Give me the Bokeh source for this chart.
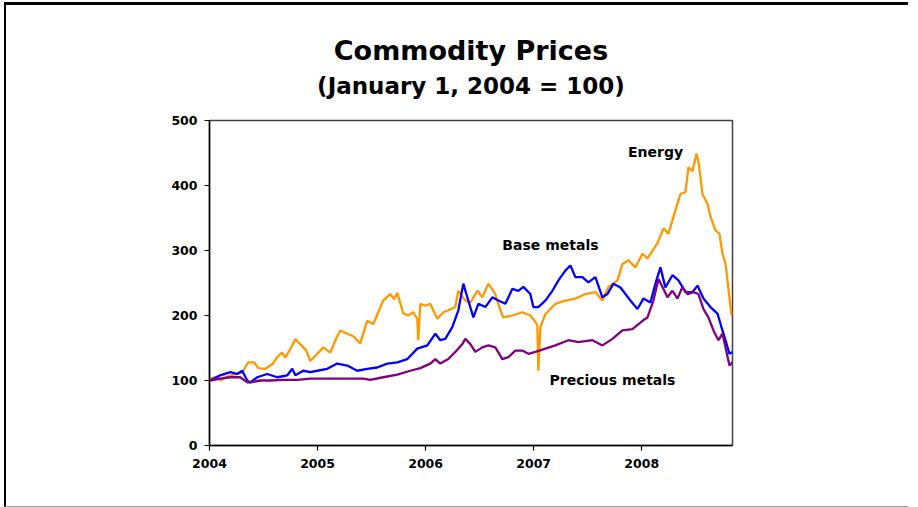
from bokeh.plotting import figure
from bokeh.models import Range1d, FixedTicker, Label, PrintfTickFormatter, Title
from bokeh.embed import file_html
from bokeh.resources import INLINE

# ---- data (decimal year, index value Jan 1 2004 = 100) ----
energy_t = [2004.006, 2004.071, 2004.099, 2004.164, 2004.238, 2004.303, 2004.358, 2004.414, 2004.451, 2004.516,
            2004.581, 2004.627, 2004.673, 2004.701, 2004.747, 2004.794, 2004.821, 2004.868, 2004.896, 2004.933,
            2004.979, 2005.025, 2005.053, 2005.118, 2005.173, 2005.210, 2005.275, 2005.331, 2005.395, 2005.460,
            2005.516, 2005.562, 2005.608, 2005.673, 2005.710, 2005.738, 2005.793, 2005.840, 2005.886, 2005.923,
            2005.932, 2005.951, 2005.997, 2006.043, 2006.108, 2006.164, 2006.210, 2006.275, 2006.303, 2006.367,
            2006.414, 2006.479, 2006.525, 2006.581, 2006.645, 2006.692, 2006.719, 2006.803, 2006.895, 2006.969,
            2007.016, 2007.034, 2007.043, 2007.062, 2007.108, 2007.201, 2007.293, 2007.386, 2007.479, 2007.571,
            2007.636, 2007.692, 2007.775, 2007.821, 2007.877, 2007.942, 2008.006, 2008.053, 2008.145, 2008.201,
            2008.247, 2008.312, 2008.358, 2008.405, 2008.432, 2008.469, 2008.506, 2008.525, 2008.562, 2008.608,
            2008.636, 2008.682, 2008.719, 2008.747, 2008.775, 2008.803, 2008.831]
energy_v = [103, 106, 100, 106, 110, 112, 128, 128, 119, 118,
            125, 136, 143, 135, 148, 164, 159, 151, 146, 130,
            138, 146, 151, 143, 165, 177, 172, 168, 157, 192,
            187, 205, 223, 233, 225, 235, 203, 200, 205, 195,
            162, 218, 215, 218, 195, 205, 208, 213, 238, 223,
            220, 238, 228, 249, 233, 208, 197, 200, 205, 200,
            190, 185, 115, 182, 202, 218, 223, 226, 233, 236,
            223, 244, 254, 279, 285, 274, 295, 288, 311, 334,
            326, 362, 387, 390, 428, 422, 449, 437, 387, 372,
            352, 331, 326, 295, 280, 240, 200]

base_t = [2004.006, 2004.099, 2004.192, 2004.256, 2004.303, 2004.349, 2004.377, 2004.442, 2004.534, 2004.627,
          2004.720, 2004.766, 2004.794, 2004.868, 2004.933, 2004.997, 2005.090, 2005.182, 2005.275, 2005.367,
          2005.460, 2005.553, 2005.645, 2005.738, 2005.831, 2005.923, 2006.016, 2006.090, 2006.136, 2006.182,
          2006.247, 2006.303, 2006.349, 2006.386, 2006.442, 2006.488, 2006.553, 2006.617, 2006.673, 2006.738,
          2006.803, 2006.858, 2006.905, 2006.969, 2006.997, 2007.043, 2007.108, 2007.173, 2007.229, 2007.293,
          2007.340, 2007.386, 2007.451, 2007.506, 2007.571, 2007.636, 2007.682, 2007.738, 2007.803, 2007.895,
          2007.960, 2008.016, 2008.080, 2008.127, 2008.173, 2008.219, 2008.284, 2008.340, 2008.405, 2008.469,
          2008.516, 2008.571, 2008.636, 2008.701, 2008.747, 2008.784, 2008.812, 2008.840]
base_v = [100, 108, 113, 110, 115, 100, 97, 105, 110, 105,
          108, 118, 108, 115, 113, 115, 118, 126, 123, 115,
          118, 120, 126, 128, 133, 149, 154, 172, 162, 164,
          182, 208, 249, 228, 197, 218, 213, 228, 223, 218,
          241, 238, 244, 233, 213, 213, 223, 238, 254, 269,
          277, 259, 259, 251, 259, 228, 233, 249, 243, 223,
          210, 226, 220, 249, 274, 243, 262, 254, 236, 236,
          246, 226, 213, 203, 177, 157, 141, 144]

prec_t = [2004.006, 2004.099, 2004.192, 2004.284, 2004.349, 2004.377, 2004.469, 2004.562, 2004.682, 2004.812,
          2004.933, 2005.053, 2005.182, 2005.303, 2005.423, 2005.488, 2005.608, 2005.738, 2005.858, 2005.951,
          2006.043, 2006.090, 2006.136, 2006.210, 2006.275, 2006.340, 2006.367, 2006.414, 2006.460, 2006.525,
          2006.581, 2006.645, 2006.710, 2006.766, 2006.830, 2006.895, 2006.951, 2007.016, 2007.108, 2007.201,
          2007.321, 2007.414, 2007.543, 2007.636, 2007.729, 2007.821, 2007.914, 2008.016, 2008.053, 2008.108,
          2008.155, 2008.192, 2008.238, 2008.284, 2008.331, 2008.377, 2008.423, 2008.479, 2008.525, 2008.571,
          2008.617, 2008.664, 2008.710, 2008.747, 2008.775, 2008.812, 2008.840]
prec_v = [100, 103, 105, 105, 97, 97, 100, 100, 101, 101,
          103, 103, 103, 103, 103, 101, 105, 109, 115, 119,
          126, 133, 126, 133, 144, 156, 164, 156, 144, 151,
          154, 151, 133, 136, 146, 146, 141, 144, 149, 154,
          162, 159, 162, 154, 164, 177, 179, 193, 197, 223,
          256, 244, 228, 238, 226, 244, 233, 236, 233, 210,
          197, 177, 162, 172, 151, 123, 128]

x_ticks = [2004, 2005, 2006, 2007, 2008]
y_ticks = [0, 100, 200, 300, 400, 500]

FONT = "DejaVu Sans"

p = figure(width=904, height=505, output_backend="svg", toolbar_location=None,
           x_range=Range1d(2004, 2008.84), y_range=Range1d(0, 500),
           min_border_left=203, min_border_right=178, min_border_top=115, min_border_bottom=65,
           margin=(2, 0, 0, 4),
           styles={"border-top": "3px solid black", "border-left": "2px solid black",
                   "border-bottom": "1px solid #a0a0a0"})

p.line(energy_t, energy_v, line_color="#FF9900", line_width=2.3)
p.line(base_t, base_v, line_color="#0000FF", line_width=2.3)
p.line(prec_t, prec_v, line_color="#800080", line_width=2.3)

p.grid.visible = False
p.outline_line_color = "#404040"
p.outline_line_width = 1.5

for ax in (p.xaxis[0], p.yaxis[0]):
    ax.axis_line_color = "black"
    ax.axis_line_width = 1.5
    ax.major_tick_line_color = "black"
    ax.major_tick_line_width = 1.2
    ax.major_tick_out = 5
    ax.major_tick_in = 0
    ax.minor_tick_line_color = None
    ax.major_label_text_font = FONT
    ax.major_label_text_font_style = "bold"
    ax.major_label_text_font_size = "12.5px"
    ax.major_label_text_color = "black"

p.xaxis.ticker = FixedTicker(ticks=x_ticks)
p.yaxis.ticker = FixedTicker(ticks=y_ticks)
p.xaxis.formatter = PrintfTickFormatter(format="%d")
p.yaxis.formatter = PrintfTickFormatter(format="%d")
p.xaxis.major_label_standoff = 8
p.yaxis.major_label_standoff = 7

# titles (first added sits nearest the frame)
p.title.visible = False
p.add_layout(Title(text="(January 1, 2004 = 100)", align="center", text_font=FONT,
                   text_font_style="bold", text_font_size="23px", text_color="black",
                   standoff=43), "above")
p.add_layout(Title(text="Commodity Prices", align="center", text_font=FONT,
                   text_font_style="bold", text_font_size="27px", text_color="black",
                   standoff=-32), "above")

def lab(x, y, text, size):
    p.add_layout(Label(x=x, y=y, text=text, text_font=FONT, text_font_style="bold",
                       text_font_size=size, text_align="center", text_baseline="middle",
                       text_color="black"))

lab(2008.128, 452.3, "Energy", "14px")
lab(2007.155, 309.0, "Base metals", "14px")
lab(2007.729, 101.5, "Precious metals", "14px")

open("out.html", "w").write(file_html(p, INLINE))
